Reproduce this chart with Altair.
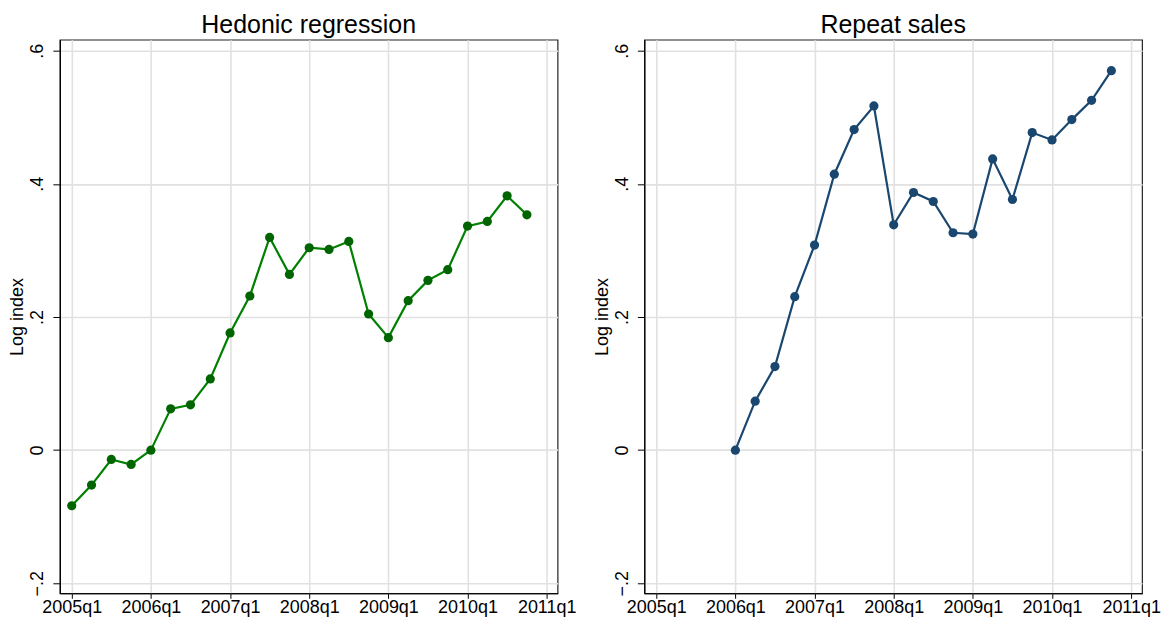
import altair as alt
import pandas as pd

# ---- data ----
hedonic_quarters = [
    "2005q1", "2005q2", "2005q3", "2005q4",
    "2006q1", "2006q2", "2006q3", "2006q4",
    "2007q1", "2007q2", "2007q3", "2007q4",
    "2008q1", "2008q2", "2008q3", "2008q4",
    "2009q1", "2009q2", "2009q3", "2009q4",
    "2010q1", "2010q2", "2010q3", "2010q4",
]
hedonic_values = [
    -0.0835, -0.0525, -0.014, -0.0215,
    0.0, 0.062, 0.068, 0.107,
    0.176, 0.2315, 0.3195, 0.264,
    0.304, 0.3015, 0.3135, 0.2045,
    0.169, 0.2245, 0.255, 0.271,
    0.3365, 0.3435, 0.382, 0.3535,
]

repeat_quarters = [
    "2006q1", "2006q2", "2006q3", "2006q4",
    "2007q1", "2007q2", "2007q3", "2007q4",
    "2008q1", "2008q2", "2008q3", "2008q4",
    "2009q1", "2009q2", "2009q3", "2009q4",
    "2010q1", "2010q2", "2010q3", "2010q4",
]
repeat_values = [
    0.0, 0.0735, 0.1255, 0.2305,
    0.308, 0.4145, 0.4815, 0.517,
    0.3385, 0.387, 0.3735, 0.3265,
    0.3245, 0.4375, 0.3765, 0.477,
    0.466, 0.4965, 0.5255, 0.57,
]

x_tick_labels = ["2005q1", "2006q1", "2007q1", "2008q1", "2009q1", "2010q1", "2011q1"]
y_tick_values = [-0.2, 0.0, 0.2, 0.4, 0.6]


def q_index(q):
    return (int(q[:4]) - 2005) * 4 + int(q[-1]) - 1


df_h = pd.DataFrame({"quarter": hedonic_quarters, "value": hedonic_values})
df_h["t"] = df_h["quarter"].map(q_index)
df_r = pd.DataFrame({"quarter": repeat_quarters, "value": repeat_values})
df_r["t"] = df_r["quarter"].map(q_index)

x_ticks = [q_index(l) for l in x_tick_labels]
label_arr = "[" + ",".join("'%s'" % l for l in x_tick_labels) + "]"

FONT = "Liberation Sans"


def panel(df, title, line_color, point_color):
    x = alt.X(
        "t:Q",
        scale=alt.Scale(domain=[-0.6, 24.55], nice=False, zero=False),
        axis=alt.Axis(
            values=x_ticks,
            labelExpr=label_arr + "[round(datum.value/4)]",
            title=None,
            grid=True,
            gridColor="#e1e1e1",
            gridWidth=1.6,
            domainColor="#000000",
            domainWidth=1.2,
            tickColor="#000000",
            tickSize=5,
            labelFont=FONT,
            labelFontSize=18,
            labelColor="#000000",
            labelPadding=0,
            labelFlush=False,
            labelOverlap=False,
        ),
    )
    y = alt.Y(
        "value:Q",
        scale=alt.Scale(domain=[-0.215, 0.6165], nice=False, zero=False),
        axis=alt.Axis(
            values=y_tick_values,
            labelExpr="datum.value == 0 ? '0' : replace(format(datum.value, '.1f'), '0.', '.')",
            title="Log index",
            titleFont=FONT,
            titleFontSize=18,
            titleFontWeight="normal",
            titleColor="#000000",
            titlePadding=2,
            grid=True,
            gridColor="#e1e1e1",
            gridWidth=1.6,
            domainColor="#000000",
            domainWidth=1.2,
            tickColor="#000000",
            tickSize=7,
            labelFont=FONT,
            labelFontSize=18,
            labelColor="#000000",
            labelAngle=270,
            labelAlign="center",
            labelBaseline="bottom",
            labelPadding=6,
            labelFlush=False,
            labelOverlap=False,
        ),
    )
    base = alt.Chart(df)
    line = base.mark_line(color=line_color, strokeWidth=2.2).encode(x=x, y=y)
    pts = base.mark_point(filled=True, opacity=1, size=85, color=point_color).encode(x=x, y=y)
    return (line + pts).properties(
        width=499,
        height=555,
        title=alt.TitleParams(
            title, font=FONT, fontSize=25, fontWeight="normal", color="#000000", offset=2
        ),
    )


left = panel(df_h, "Hedonic regression", "#008000", "#006400")
right = panel(df_r, "Repeat sales", "#1a476f", "#1a476f")

chart = (
    alt.hconcat(left, right, spacing=15)
    .properties(
        padding={"top": 3, "left": 0, "right": 0, "bottom": 0},
        background="#ffffff",
    )
    .configure_view(stroke="#222222", strokeWidth=1.2)
)

chart.save("out.html", embed_options={"renderer": "svg", "actions": False})
